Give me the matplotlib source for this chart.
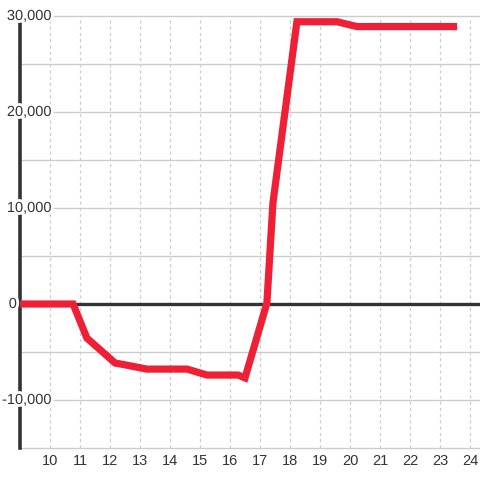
import matplotlib
matplotlib.use("Agg")
import matplotlib.pyplot as plt
import matplotlib.patheffects as pe

# series (hour of day, value)
hours = [9.0, 10.77, 11.23, 12.17, 12.44, 13.23, 14.57, 15.23, 16.27, 16.5,
         17.23, 17.43, 18.23, 19.57, 20.23, 23.57]
values = [0, 0, -3550, -6150, -6300, -6780, -6780, -7400, -7400, -7700,
          100, 10500, 29400, 29400, 28900, 28900]

x_ticks = list(range(10, 25))
y_grid = list(range(-15000, 30001, 5000))
y_labels = [30000, 20000, 10000, 0, -10000]

ink = "#333333"
grid_col = "#cccccc"
red = "#ee2036"

fig = plt.figure(figsize=(4.8, 4.8), dpi=100)
ax = fig.add_axes([20 / 480, 32 / 480, 460 / 480, 432 / 480])
ax.set_xlim(9, 24.333)
ax.set_ylim(-15000, 30000)

for s in ["top", "right", "bottom"]:
    ax.spines[s].set_visible(False)
ax.spines["left"].set_color(ink)
ax.spines["left"].set_linewidth(2.6)
ax.spines["left"].set_zorder(3)

# grid
for y in y_grid:
    ax.axhline(y, color=grid_col, lw=1.0, zorder=1, clip_on=False)
for x in x_ticks:
    ax.axvline(x, color=grid_col, lw=0.9, ls=(0, (2.5, 2.5)), zorder=1)

# zero line
ax.axhline(0, color=ink, lw=2.4, zorder=2)

ax.plot(hours, values, color=red, lw=5.2, solid_joinstyle="miter",
        solid_capstyle="butt", zorder=4, clip_on=False)

ax.set_xticks([])
ax.set_yticks([])

halo = [pe.withStroke(linewidth=4, foreground="white")]
for x in x_ticks:
    ax.text(x, -15000 - 13 * 45000 / 432, str(x), ha="center", va="center",
            fontsize=10.5, color=ink, family="Liberation Sans", clip_on=False)
for y in y_labels:
    xpos = 9 + (17 - 20) / 30 if y == 0 else 9 + (52 - 20) / 30
    ax.text(xpos, y, f"{y:,}", ha="right", va="center", fontsize=10.5,
            color=ink, family="Liberation Sans", zorder=5, clip_on=False,
            path_effects=halo)

fig.savefig("out.png", dpi=100, facecolor="white")
